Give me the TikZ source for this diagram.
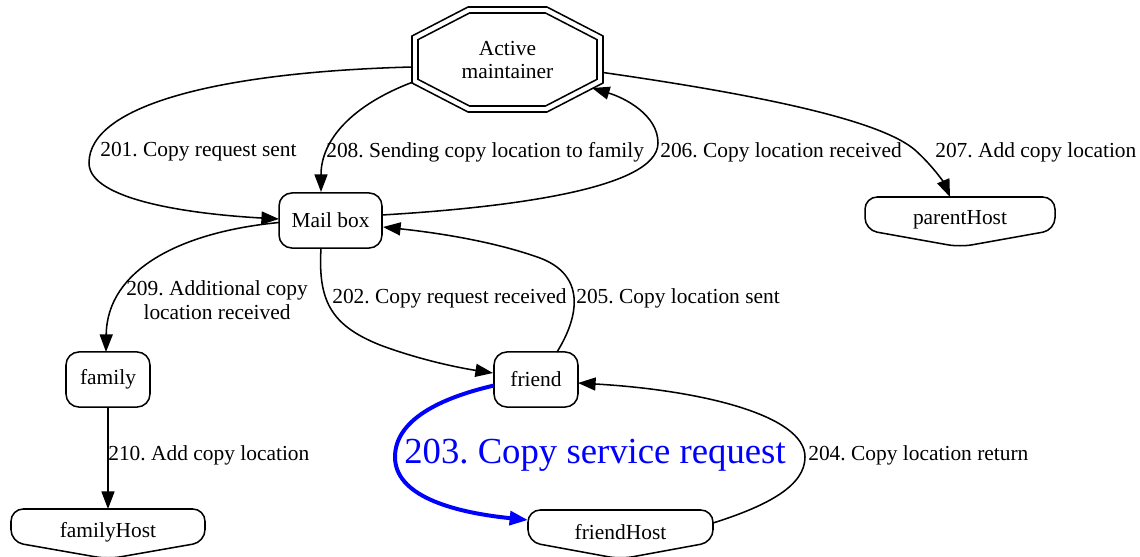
\documentclass[tikz,border=0pt]{standalone}
\usepackage{fontspec}
\setmainfont{Liberation Serif}
\usetikzlibrary{arrows.meta}
\frenchspacing
\begin{document}
\frenchspacing
\begin{tikzpicture}[x=0.6536pt, y=-0.6536pt,
  every node/.style={font=\fontsize{14}{15.4}\selectfont, inner sep=0pt},
  edge/.style={draw, line width=1pt, -{Triangle[length=11.5pt,width=8.5pt]}},
  bigedge/.style={draw=blue, line width=2.6pt, -{Triangle[length=12pt,width=9pt]}},
  rbox/.style={draw, line width=1pt, rounded corners=8.5pt, minimum height=36pt},
  lbl/.style={anchor=west},
  shapeline/.style={line width=1pt}]
\useasboundingbox (0,0) rectangle (1140,557);

% nodes
\node[align=center] (am) at (507.5,60) {Active\\maintainer};
\draw[shapeline, shift={(507.5,59.5)}] (-39.5,-52.5) -- (39.5,-52.5) -- (95.5,-23.5) -- (95.5,23.5) -- (39.5,52.5) -- (-39.5,52.5) -- (-95.5,23.5) -- (-95.5,-23.5) -- cycle;
\draw[shapeline, shift={(507.5,59.5)}] (-38,-46.5) -- (38,-46.5) -- (89.5,-19.85) -- (89.5,19.85) -- (38,46.5) -- (-38,46.5) -- (-89.5,19.85) -- (-89.5,-19.85) -- cycle;

\node[rbox, minimum width=67.3pt] (mb) at (330.5,220.5) {Mail box};
\node[rbox, minimum width=54.9pt] (fam) at (108,379.5) {family};
\node[rbox, minimum width=54.9pt] (fr) at (536,379.5) {friend};

\node (ph) at (960,220) {parentHost};
\node (fh) at (108,532) {familyHost};
\node (frh) at (620.5,532) {friendHost};
\draw[shapeline, rounded corners=8pt, shift={(ph.center)}] (-95,-23) -- (95,-23) -- (95,10) -- (0,27) -- (-95,10) -- cycle;
\draw[shapeline, rounded corners=8pt, shift={(fh.center)}] (-97,-23) -- (97,-23) -- (97,10) -- (0,27) -- (-97,10) -- cycle;
\draw[shapeline, rounded corners=8pt, shift={(frh.center)}] (-92.5,-22) -- (92.5,-22) -- (92.5,10) -- (0,27) -- (-92.5,10) -- cycle;

% edges
% 201
\draw[edge] ([shift={(-95.5,7)}]am.center) .. controls (220,72) and (89,105) .. (89,163) .. controls (89,200) and (190,214) .. ([shift={(-51.5,-1.5)}]mb.center);
% 208
\draw[edge] ([shift={(-94.5,22)}]am.center) .. controls (352,105) and (321,140) .. ([shift={(-9.5,-28.5)}]mb.center);
% 206
\draw[edge] ([shift={(51.5,-5.5)}]mb.center) .. controls (500,208) and (658,190) .. (658,143) .. controls (658,115) and (625,98) .. ([shift={(84.5,28)}]am.center);
% 207
\draw[edge] ([shift={(95.5,12.5)}]am.center) .. controls (760,95) and (880,120) .. (915,150) .. controls (935,168) and (945,185) .. ([shift={(-10,-23)}]ph.center);
% 209
\draw[edge] ([shift={(-51.5,2)}]mb.center) .. controls (180,232) and (107,270) .. ([shift={(-2,-27.5)}]fam.center);
% 202
\draw[edge] ([shift={(-9.5,27.5)}]mb.center) .. controls (318,300) and (330,325) .. (380,345) .. controls (420,360) and (460,368) .. ([shift={(-43,-6.5)}]fr.center);
% 205
\draw[edge] ([shift={(21,-27.5)}]fr.center) .. controls (580,315) and (585,275) .. (540,258) .. controls (490,240) and (430,232) .. ([shift={(52.5,6.5)}]mb.center);
% 203
\draw[bigedge] ([shift={(-42,6)}]fr.center) .. controls (440,398) and (395,420) .. (395,457) .. controls (395,495) and (450,512) .. ([shift={(-92.5,-12)}]frh.center);
% 204
\draw[edge] ([shift={(92.5,-9)}]frh.center) .. controls (770,505) and (805,485) .. (805,457) .. controls (805,415) and (700,390) .. ([shift={(42,3.5)}]fr.center);
% 210
\draw[edge] (fam.south) -- ([shift={(0,-23)}]fh.center);

% labels
\node[lbl] (l201) at (100,152) {201. Copy request sent};
\node[lbl] (l208) at (326,152) {208. Sending copy location to family};
\node[lbl] (l206) at (660,152) {206. Copy location received};
\node[lbl] (l207) at (935,152) {207. Add copy location};
\node[align=center] (l209) at (217,300) {209. Additional copy\\location received};
\node[lbl] (l202) at (332,298) {202. Copy request received};
\node[lbl] (l205) at (576,298) {205. Copy location sent};
\node[lbl, text=blue, font=\fontsize{24}{28}\selectfont] (l203) at (404,455) {203. Copy service request};
\node[lbl] (l204) at (808,455) {204. Copy location return};
\node[lbl] (l210) at (108,455) {210. Add copy location};
\end{tikzpicture}
\end{document}
